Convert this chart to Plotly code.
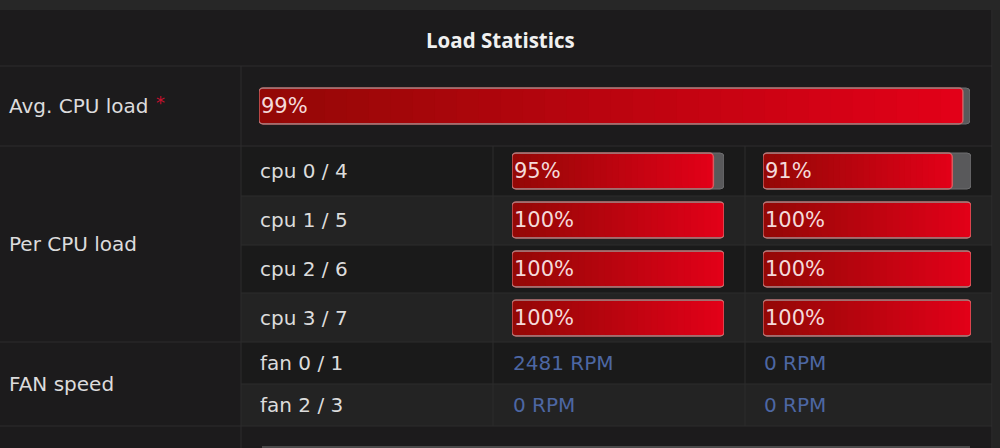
import plotly.graph_objects as go

# ---------------- data ----------------
title_text = "Load Statistics"
section_labels = ["Avg. CPU load", "Per CPU load", "FAN speed"]
avg_cpu_load = [99]
cpu_labels = ["cpu 0 / 4", "cpu 1 / 5", "cpu 2 / 6", "cpu 3 / 7"]
cpu_load_a = [95, 100, 100, 100]
cpu_load_b = [91, 100, 100, 100]
fan_labels = ["fan 0 / 1", "fan 2 / 3"]
fan_rpm_a = [2481, 0]
fan_rpm_b = [0, 0]

# ---------------- layout geometry (pixels) ----------------
W, H = 1000, 448
FONT = "DejaVu Sans"
TITLE_FONT = "Open Sans"
BG = "#1c1b1c"
DARK_ROW = "#1a1a1a"
LIGHT_ROW = "#232323"
GRID = "#2d2d2d"
LABEL_C = "#dcdcdc"
FAN_C = "#4d67a3"

avg_row_y = [106]
cpu_row_y = [171, 220, 269, 318]
fan_row_y = [363, 405]
BAR_H = 36

fig = go.Figure()

N = 32
c0 = (148, 8, 6)
c1 = (226, 0, 24)


def grad(k):
    t = k / (N - 1)
    return "rgb(%d,%d,%d)" % tuple(round(a + (b - a) * t) for a, b in zip(c0, c1))


def add_bars(values, ys, axis):
    # grey track
    fig.add_trace(go.Bar(
        x=[100] * len(values), y=ys, base=[0] * len(values), orientation="h",
        width=BAR_H, xaxis=axis, yaxis="y",
        marker=dict(color="#59595b", line=dict(color="#6e6e70", width=1), cornerradius=4),
        hoverinfo="skip", showlegend=False))
    # gradient fill, drawn as overlapping segments ending at the value
    xs, bs, yy, cs = [], [], [], []
    for v, y in zip(values, ys):
        for k in range(N):
            b = v * k / N
            bs.append(b)
            xs.append(v - b)
            yy.append(y)
            cs.append(grad(k))
    fig.add_trace(go.Bar(
        x=xs, y=yy, base=bs, orientation="h", width=BAR_H - 2,
        xaxis=axis, yaxis="y",
        marker=dict(color=cs, line=dict(width=0), cornerradius=3),
        hoverinfo="skip", showlegend=False))
    # light edge
    fig.add_trace(go.Bar(
        x=values, y=ys, base=[0] * len(values), orientation="h", width=BAR_H,
        xaxis=axis, yaxis="y",
        marker=dict(color="rgba(0,0,0,0)", line=dict(color="rgba(215,120,120,0.75)", width=1.5),
                    cornerradius=4),
        hoverinfo="skip", showlegend=False))
    for v, y in zip(values, ys):
        fig.add_annotation(x=0, y=y, xref=axis, yref="y", text=f"{v}%", showarrow=False,
                           xanchor="left", yanchor="middle", xshift=0,
                           font=dict(family=FONT, size=21, color="#f4dada"))


add_bars(avg_cpu_load, avg_row_y, "x")
add_bars(cpu_load_a, cpu_row_y, "x2")
add_bars(cpu_load_b, cpu_row_y, "x3")

shapes = []


def rect(x0, y0, x1, y1, color):
    shapes.append(dict(type="rect", xref="paper", yref="y", x0=x0 / W, x1=x1 / W, y0=y0, y1=y1,
                       fillcolor=color, line=dict(width=0), layer="below"))


def line(x0, y0, x1, y1, color=GRID, w=1):
    shapes.append(dict(type="line", xref="paper", yref="y", x0=x0 / W, x1=x1 / W, y0=y0, y1=y1,
                       line=dict(color=color, width=w), layer="below"))


rect(0, 0, 1000, 10, "#272727")
rect(993, 10, 1000, 448, "#242424")
for y0, y1, c in [(147, 196, DARK_ROW), (196, 245, LIGHT_ROW), (245, 293, DARK_ROW),
                  (293, 342, LIGHT_ROW), (342, 384, DARK_ROW), (384, 426, LIGHT_ROW)]:
    rect(241, y0, 992, y1, c)
for y in [66, 146, 342, 426]:
    line(0, y, 992, y)
for y in [196, 245, 293, 384]:
    line(241, y, 992, y)
line(241, 66, 241, 448)
line(493, 146, 493, 426)
line(745, 146, 745, 426)
line(992, 10, 992, 448, "#303030")
# top edge of the next (cut-off) panel row
rect(262, 446, 970, 448, "#4a4a4a")

# texts
fig.add_annotation(x=0.5, y=40, xref="paper", yref="y", text=f"<b>{title_text}</b>",
                   showarrow=False, font=dict(family=TITLE_FONT, size=20.5, color="#f0f0f0"))
for lab, y in zip(section_labels, [106, 244, 384]):
    fig.add_annotation(x=7 / W, y=y, xref="paper", yref="y", text=lab, showarrow=False,
                       xanchor="left", yanchor="middle",
                       font=dict(family=FONT, size=20, color=LABEL_C))
fig.add_annotation(x=154 / W, y=102, xref="paper", yref="y", text="*", showarrow=False,
                   xanchor="left", yanchor="middle",
                   font=dict(family=FONT, size=18, color="#c8102e"))
for lab, y in zip(cpu_labels, cpu_row_y):
    fig.add_annotation(x=258 / W, y=y, xref="paper", yref="y", text=lab, showarrow=False,
                       xanchor="left", yanchor="middle",
                       font=dict(family=FONT, size=20, color=LABEL_C))
for lab, y, a, b in zip(fan_labels, fan_row_y, fan_rpm_a, fan_rpm_b):
    fig.add_annotation(x=258 / W, y=y, xref="paper", yref="y", text=lab, showarrow=False,
                       xanchor="left", yanchor="middle",
                       font=dict(family=FONT, size=20, color=LABEL_C))
    fig.add_annotation(x=511 / W, y=y, xref="paper", yref="y", text=f"{a} RPM", showarrow=False,
                       xanchor="left", yanchor="middle",
                       font=dict(family=FONT, size=20, color=FAN_C))
    fig.add_annotation(x=762 / W, y=y, xref="paper", yref="y", text=f"{b} RPM", showarrow=False,
                       xanchor="left", yanchor="middle",
                       font=dict(family=FONT, size=20, color=FAN_C))

ax_common = dict(range=[0, 100], visible=False, fixedrange=True, anchor="y")
fig.update_layout(
    width=W, height=H, margin=dict(l=0, r=0, t=0, b=0),
    paper_bgcolor=BG, plot_bgcolor="rgba(0,0,0,0)",
    barmode="overlay", showlegend=False,
    shapes=shapes,
    xaxis=dict(domain=[259 / W, 970 / W], **ax_common),
    xaxis2=dict(domain=[512 / W, 724 / W], **ax_common),
    xaxis3=dict(domain=[763 / W, 971 / W], **ax_common),
    yaxis=dict(range=[H, 0], domain=[0, 1], visible=False, fixedrange=True),
)

fig.write_html("out.html", config=dict(displayModeBar=False))
